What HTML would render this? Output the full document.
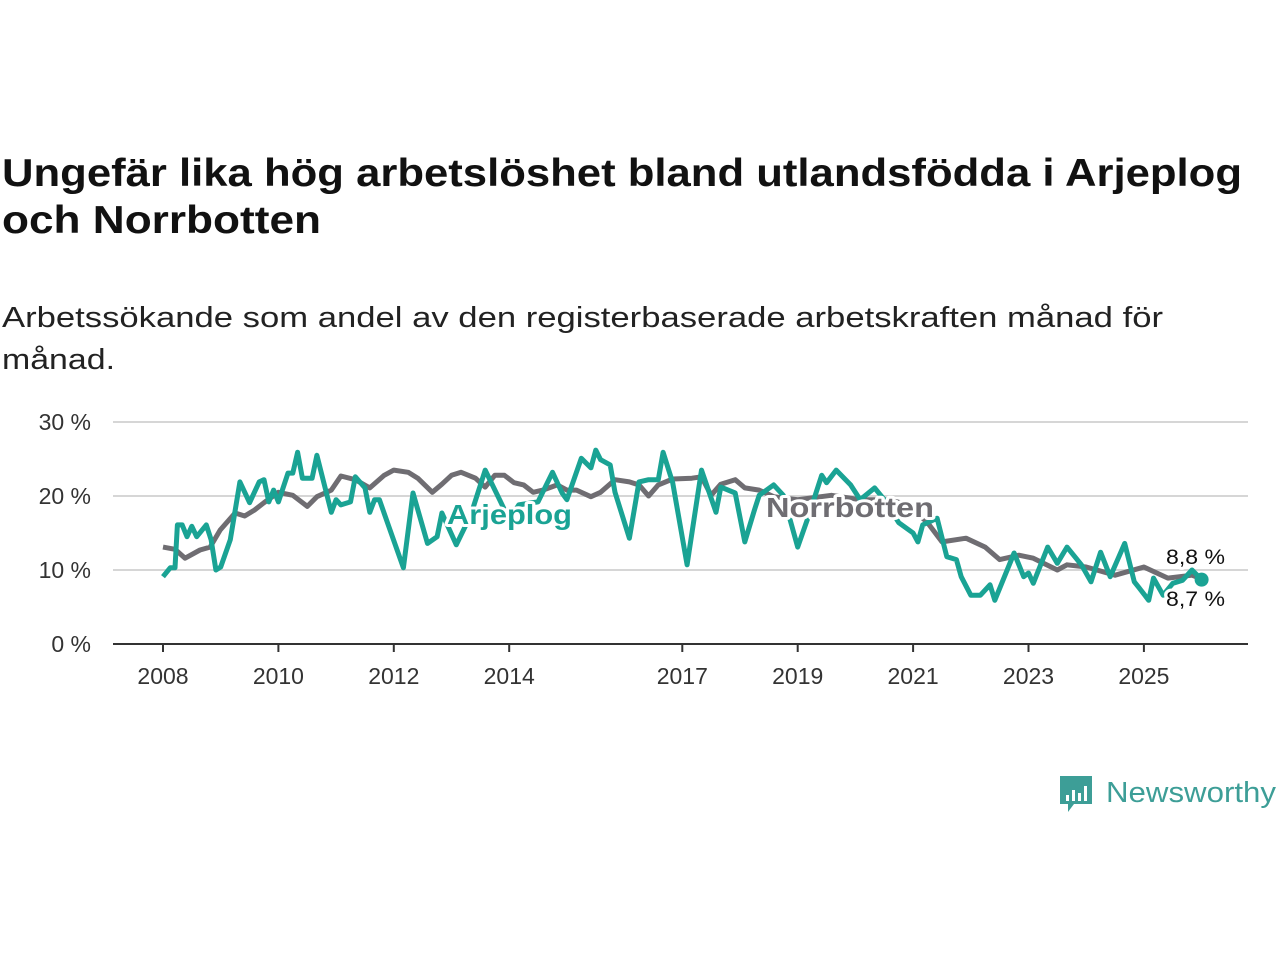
<!DOCTYPE html>
<html><head><meta charset="utf-8">
<style>
html,body{margin:0;padding:0;background:#fff;}
body{width:1280px;height:960px;overflow:hidden;font-family:"Liberation Sans",sans-serif;}
</style></head>
<body>
<svg id="chart" width="1280" height="960" xmlns="http://www.w3.org/2000/svg" font-family="Liberation Sans, sans-serif">
<text x="2" y="186" font-size="39" font-weight="bold" fill="#111" textLength="1240" lengthAdjust="spacingAndGlyphs">Ungefär lika hög arbetslöshet bland utlandsfödda i Arjeplog</text>
<text x="2" y="233" font-size="39" font-weight="bold" fill="#111" textLength="319" lengthAdjust="spacingAndGlyphs">och Norrbotten</text>
<text x="2" y="327" font-size="29" fill="#222" textLength="1161" lengthAdjust="spacingAndGlyphs">Arbetssökande som andel av den registerbaserade arbetskraften månad för</text>
<text x="2" y="369" font-size="29" fill="#222" textLength="113" lengthAdjust="spacingAndGlyphs">månad.</text>
<g id="grid"></g>
<g id="axes"></g>
<g id="lines"></g>
<g id="labels"></g>
<g>
<path d="M1060 776 h32 v28 h-18 l-6 8 v-8 h-8 z" fill="#3d9e97"/>
<rect x="1066" y="795" width="3" height="6" fill="#fff"/>
<rect x="1072" y="790" width="3" height="11" fill="#fff"/>
<rect x="1078" y="793" width="3" height="8" fill="#fff"/>
<rect x="1084" y="786" width="3" height="15" fill="#fff"/>
<text x="1106" y="802" font-size="29" fill="#3d9e97" textLength="170" lengthAdjust="spacingAndGlyphs">Newsworthy</text>
</g>
</svg>
<script>
const months = [0,1.5,2.5,3,4,5,6,7,9,10,11,12,14,16,18,20,21,22,23,24,26,27,28,29,31,32,35,36,37,39,40,42,43,44,45,47,50,52,55,57,58,61,64,67,70,72,74,78,81,83,84,87,89,90,91,93,94,97,99,101,103,104,106,109,112,115,116,119,121,123,124,127,129,132,134,137,138,140,143,145,148,150,153,156,157,158,161,163,165,166,168,170,172,173,177,179,180,181,184,186,188,191,193,195,197,200,202,203,205,206,208,210,212,214,216];
const arjeplog = [9.1,10.3,10.3,16.1,16.1,14.5,15.9,14.5,16.1,14.1,10.0,10.4,14.1,21.9,19.1,21.9,22.2,19.2,20.8,19.2,23.1,23.1,25.9,22.4,22.4,25.5,17.8,19.5,18.8,19.2,22.6,21.1,17.8,19.5,19.5,15.8,10.3,20.4,13.6,14.5,17.7,13.4,17.4,23.5,19.5,16.8,18.8,19.2,23.2,20.4,19.5,25.1,23.8,26.2,24.9,24.2,20.5,14.3,21.9,22.2,22.2,25.9,21.8,10.7,23.5,17.8,21.2,20.4,13.8,18.1,20.1,21.5,20.1,13.1,16.8,22.8,21.8,23.5,21.5,19.5,21.1,19.5,16.4,15.0,13.8,16.1,17.0,11.8,11.4,9.1,6.6,6.6,8.0,5.9,12.3,9.1,9.6,8.2,13.1,10.9,13.1,10.7,8.4,12.4,9.1,13.6,8.4,7.6,5.9,8.9,6.6,8.2,8.6,10.0,8.7];
const monthsN = [0,2.5,4.6,7.7,9.8,11.9,15,17,19,21,24,27,30,32,35,37,40,43,46,48,51,53,56,58,60,62,65,67,69,71,73,75,77,79,82,84,86,89,91,94,97,99,101,103,106,110,112,114,116,119,121,124,127,132,139,145,151,155,159,162,167,171,174,178,181,186,188,192,198,204,209,214,216];
const norrbotten = [13.1,12.8,11.6,12.7,13.1,15.4,17.7,17.3,18.1,19.1,20.5,20.1,18.6,19.9,20.8,22.7,22.2,21.1,22.8,23.5,23.2,22.4,20.5,21.6,22.8,23.2,22.4,21.2,22.8,22.8,21.8,21.5,20.5,20.8,21.5,20.8,20.8,19.9,20.5,22.2,21.9,21.5,20.0,21.5,22.3,22.4,22.6,20.1,21.6,22.2,21.1,20.8,19.9,19.5,20.1,19.5,19.5,18.8,16.4,13.8,14.3,13.1,11.4,12.0,11.6,10.0,10.7,10.4,9.3,10.4,8.9,9.3,8.8];
const yTicks = [0,10,20,30];
const yTickLabels = ["0 %","10 %","20 %","30 %"];
const xTickYears = [2008,2010,2012,2014,2017,2019,2021,2023,2025];

const NS="http://www.w3.org/2000/svg";
const X0=163, PXY=57.7, Y0=644, PPV=7.4;
const xm = m => X0 + m/12*PXY;
const xy = yr => X0 + (yr-2008)*PXY;
const yv = v => Y0 - v*PPV;
function mk(tag, attrs, parent){const e=document.createElementNS(NS,tag);for(const k in attrs)e.setAttribute(k,attrs[k]);parent.appendChild(e);return e;}
const grid=document.getElementById('grid'), axes=document.getElementById('axes'), lines=document.getElementById('lines'), labels=document.getElementById('labels');
yTicks.forEach((t,i)=>{
  if(t>0){const g=mk('line',{x1:113,x2:1248,y1:yv(t),y2:yv(t),stroke:'#d6d6d6','stroke-width':2},grid);
  
  }
  const tx=mk('text',{x:91,y:yv(t)+8,'font-size':23,fill:'#333','text-anchor':'end'},axes);
  tx.textContent=yTickLabels[i];
  
  
});
const ax=mk('line',{x1:113,x2:1248,y1:Y0,y2:Y0,stroke:'#333','stroke-width':2},axes);


xTickYears.forEach(yr=>{
  const tk=mk('line',{x1:xy(yr),x2:xy(yr),y1:Y0,y2:Y0+8,stroke:'#333','stroke-width':2},axes);
  
  
  const tx=mk('text',{x:xy(yr),y:Y0+40,'font-size':23,fill:'#333','text-anchor':'middle'},axes);
  tx.textContent=yr;
  
  
});
function path(ms,vs){return ms.map((m,i)=>(i?'L':'M')+xm(m).toFixed(1)+' '+yv(vs[i]).toFixed(1)).join(' ');}
const ln=mk('path',{d:path(monthsN,norrbotten),fill:'none',stroke:'#6f6d72','stroke-width':5,'stroke-linejoin':'round'},lines);


const la=mk('path',{d:path(months,arjeplog),fill:'none',stroke:'#1aa394','stroke-width':5,'stroke-linejoin':'round'},lines);


const dn=mk('circle',{cx:xm(monthsN[monthsN.length-1]),cy:yv(norrbotten[norrbotten.length-1]),r:6,fill:'#6f6d72'},lines);


const da=mk('circle',{cx:xm(months[months.length-1]),cy:yv(arjeplog[arjeplog.length-1]),r:7,fill:'#1aa394'},lines);


function lbl(txt,x,y,size,fill,bold,name,w){
  const h=mk('text',{x:x,y:y,'font-size':size,fill:'#fff',stroke:'#fff','stroke-width':6,'font-weight':bold?'bold':'normal','stroke-linejoin':'round',textLength:w,lengthAdjust:'spacingAndGlyphs'},labels);
  h.textContent=txt;
  
  
  const t=mk('text',{x:x,y:y,'font-size':size,fill:fill,'font-weight':bold?'bold':'normal',textLength:w,lengthAdjust:'spacingAndGlyphs'},labels);
  t.textContent=txt;
  
  
}
lbl('Arjeplog',447,524,28,'#1aa394',true,'arjeplog-label',125);
lbl('Norrbotten',766,517,28,'#6f6d72',true,'norrbotten-label',168);
lbl('8,8 %',1166,564,21,'#111',false,'norrbotten-value-label',59);
lbl('8,7 %',1166,606,21,'#111',false,'arjeplog-value-label',59);
</script>
</body></html>
